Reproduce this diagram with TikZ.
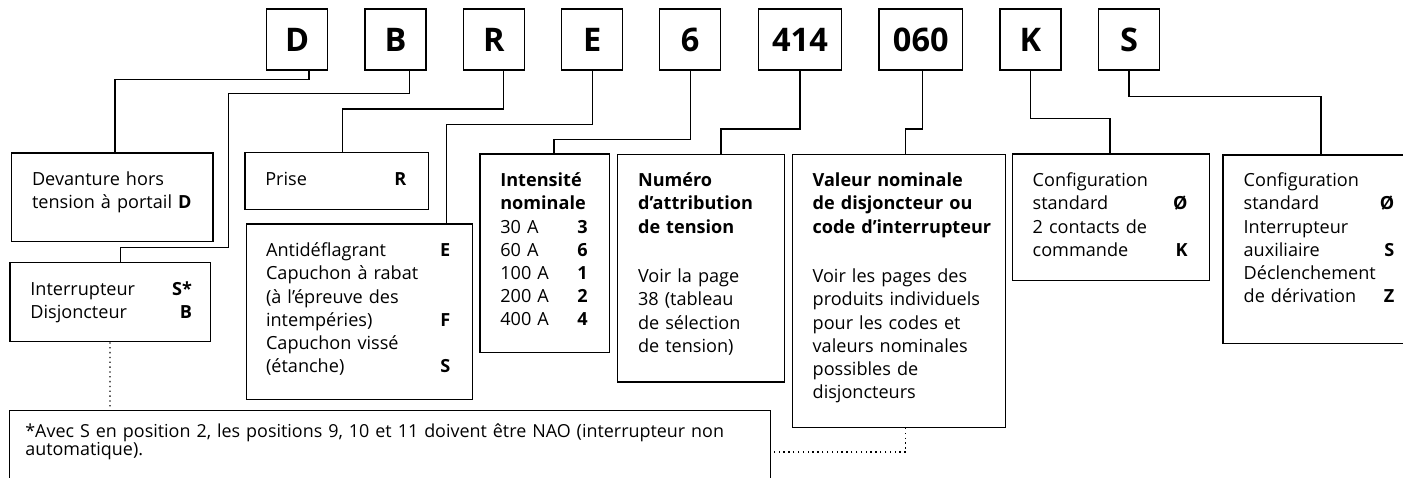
\documentclass[tikz,border=0pt]{standalone}
\usepackage{fontspec}
\setmainfont{Open Sans}
\usepackage{tikz}
\usetikzlibrary{positioning,calc}

\tikzset{
  codebox/.style={draw,line width=0.8pt,minimum height=1.22cm,inner sep=0pt,
    font=\fontsize{18.5}{20}\selectfont\bfseries},
  infobox/.style={draw,line width=0.75pt,anchor=north west,inner sep=0pt},
  infotext/.style={anchor=base west,inner sep=0pt,align=left,
    font=\fontsize{10.3}{13.2}\selectfont},
  notetext/.style={anchor=base west,inner sep=0pt,align=left,
    font=\fontsize{10.2}{10.6}\selectfont},
  link/.style={line width=0.75pt},
  dotlink/.style={line width=0.75pt,dotted}
}
\newcommand{\codeletter}[1]{\hspace{0pt plus 1filll}\textbf{#1}}

\begin{document}
\begin{tikzpicture}[x=0.02cm,y=-0.02cm]
\useasboundingbox (0,0) rectangle (1403,477);
\clip (0,0) rectangle (1403,477);
% code positions
\foreach \name/\cx/\w/\txt in {c1/297.2/1.22/D,c2/395.5/1.22/B,c3/493.8/1.22/R,
    c4/592.2/1.22/E,c5/690.2/1.22/6,c6/800/1.67/414,c7/920.8/1.67/060,
    c8/1030.5/1.22/K,c9/1129/1.22/S}
  \node[codebox,minimum width=\w cm] (\name) at (\cx,39.5) {\txt};

% description boxes
\node[infobox,minimum width=4.026cm,minimum height=1.774cm] (front) at (11,152.3) {};
\node[infobox,minimum width=4.014cm,minimum height=1.586cm] (switch) at (9.3,261.7) {};
\node[infobox,minimum width=3.674cm,minimum height=1.14cm] (plug) at (244.3,152) {};
\node[infobox,minimum width=4.52cm,minimum height=3.514cm] (cover) at (245.7,223.3) {};
\node[infobox,minimum width=2.588cm,minimum height=3.974cm] (amps) at (479.3,153.3) {};
\node[infobox,minimum width=3.34cm,minimum height=4.552cm] (volt) at (617,153.7) {};
\node[infobox,minimum width=4.266cm,minimum height=5.454cm] (rating) at (791.7,154) {};
\node[infobox,minimum width=3.94cm,minimum height=2.534cm] (ctrl) at (1011.7,153.3) {};
\node[infobox,minimum width=3.9cm,minimum height=3.768cm] (aux) at (1222.3,154.3) {};
\node[infobox,minimum width=15.22cm,minimum height=1.6cm] (note) at (9,409.5) {};

% texts
\node[infotext,text width=3.6cm] (front-t) at ([shift={(20.7,33.4)}]front.north west)
  {Devanture hors\\tension à portail \textbf{D}};
\node[infotext,text width=3.234cm] (switch-t) at ([shift={(20.7,33.3)}]switch.north west)
  {Interrupteur\codeletter{S*}\\Disjoncteur\codeletter{B}};
\node[infotext,text width=2.82cm] (plug-t) at ([shift={(20.7,33.7)}]plug.north west)
  {Prise\codeletter{R}};
\node[infotext,text width=3.686cm] (cover-t) at ([shift={(20,33.4)}]cover.north west)
  {Antidéflagrant\codeletter{E}\\Capuchon à rabat\\(à l’épreuve des\\intempéries)\codeletter{F}\\
   Capuchon vissé\\(étanche)\codeletter{S}};
\node[infotext,text width=1.746cm] (amps-t) at ([shift={(20.7,33.4)}]amps.north west)
  {\textbf{Intensité}\\\textbf{nominale}\\30 A\codeletter{3}\\60 A\codeletter{6}\\
   100 A\codeletter{1}\\200 A\codeletter{2}\\400 A\codeletter{4}};
\node[infotext,text width=3.0cm] (volt-t) at ([shift={(20.7,33)}]volt.north west)
  {\textbf{Numéro}\\\textbf{d’attribution}\\\textbf{de tension}\\[15pt]
   Voir la page\\38 (tableau\\de sélection\\de tension)};
\node[infotext,text width=3.8cm] (rating-t) at ([shift={(20.6,32.7)}]rating.north west)
  {\textbf{Valeur nominale}\\\textbf{de disjoncteur ou}\\\textbf{code d’interrupteur}\\[15pt]
   Voir les pages des\\produits individuels\\pour les codes et\\valeurs nominales\\
   possibles de\\disjoncteurs};
\node[infotext,text width=3.1cm] (ctrl-t) at ([shift={(20.6,33.4)}]ctrl.north west)
  {Configuration\\standard\codeletter{Ø}\\2 contacts de\\commande\codeletter{K}};
\node[infotext,text width=3.014cm] (aux-t) at ([shift={(21,32.4)}]aux.north west)
  {Configuration\\standard\codeletter{Ø}\\Interrupteur\\auxiliaire\codeletter{S}\\
   Déclenchement\\de dérivation\codeletter{Z}};
\node[notetext,text width=14.8cm] (note-t) at ([shift={(16,27.5)}]note.north west)
  {*Avec S en position 2, les positions 9, 10 et 11 doivent être NAO (interrupteur non\\
   automatique).};

% connectors
\draw[link] ($(c1.south)+(11.8,0)$) -- ++(0,9) -| ($(front.north west)+(104,0)$);
\draw[link] ($(c2.south)+(13.8,0)$) -- ++(0,22.7)
  -| ($(switch.north west)+(219,-14.4)$) -| ($(switch.north west)+(111.4,0)$);
\draw[link] ($(c3.south)+(9.5,0)$) -- ++(0,38.3) -| ($(plug.north west)+(98.4,0)$);
\draw[link] (c4.south) -- ++(0,54) -| ($(cover.north west)+(200.6,0)$);
\draw[link] (c5.south) -- ++(0,69) -| ($(amps.north west)+(74.7,0)$);
\draw[link] (c6.south) -- ++(0,58.3) -| ($(volt.north west)+(104,0)$);
\draw[link] ($(c7.south)+(1.9,0)$) -- ++(0,58.3) -| ($(rating.north west)+(114,0)$);
\draw[link] (c8.south) -- ++(0,47.7) -| ($(ctrl.north west)+(98.3,0)$);
\draw[link] (c9.south) -- ++(0,25.7) -| ($(aux.north west)+(98.7,0)$);
% dotted links to the note
\draw[dotlink] ($(switch.south west)+(100.7,0)$) -- ($(note.north west)+(101,0)$);
\draw[dotlink] ($(rating.south west)+(114,0)$) |- ($(note.north east)+(0,42.5)$);
\end{tikzpicture}
\end{document}
